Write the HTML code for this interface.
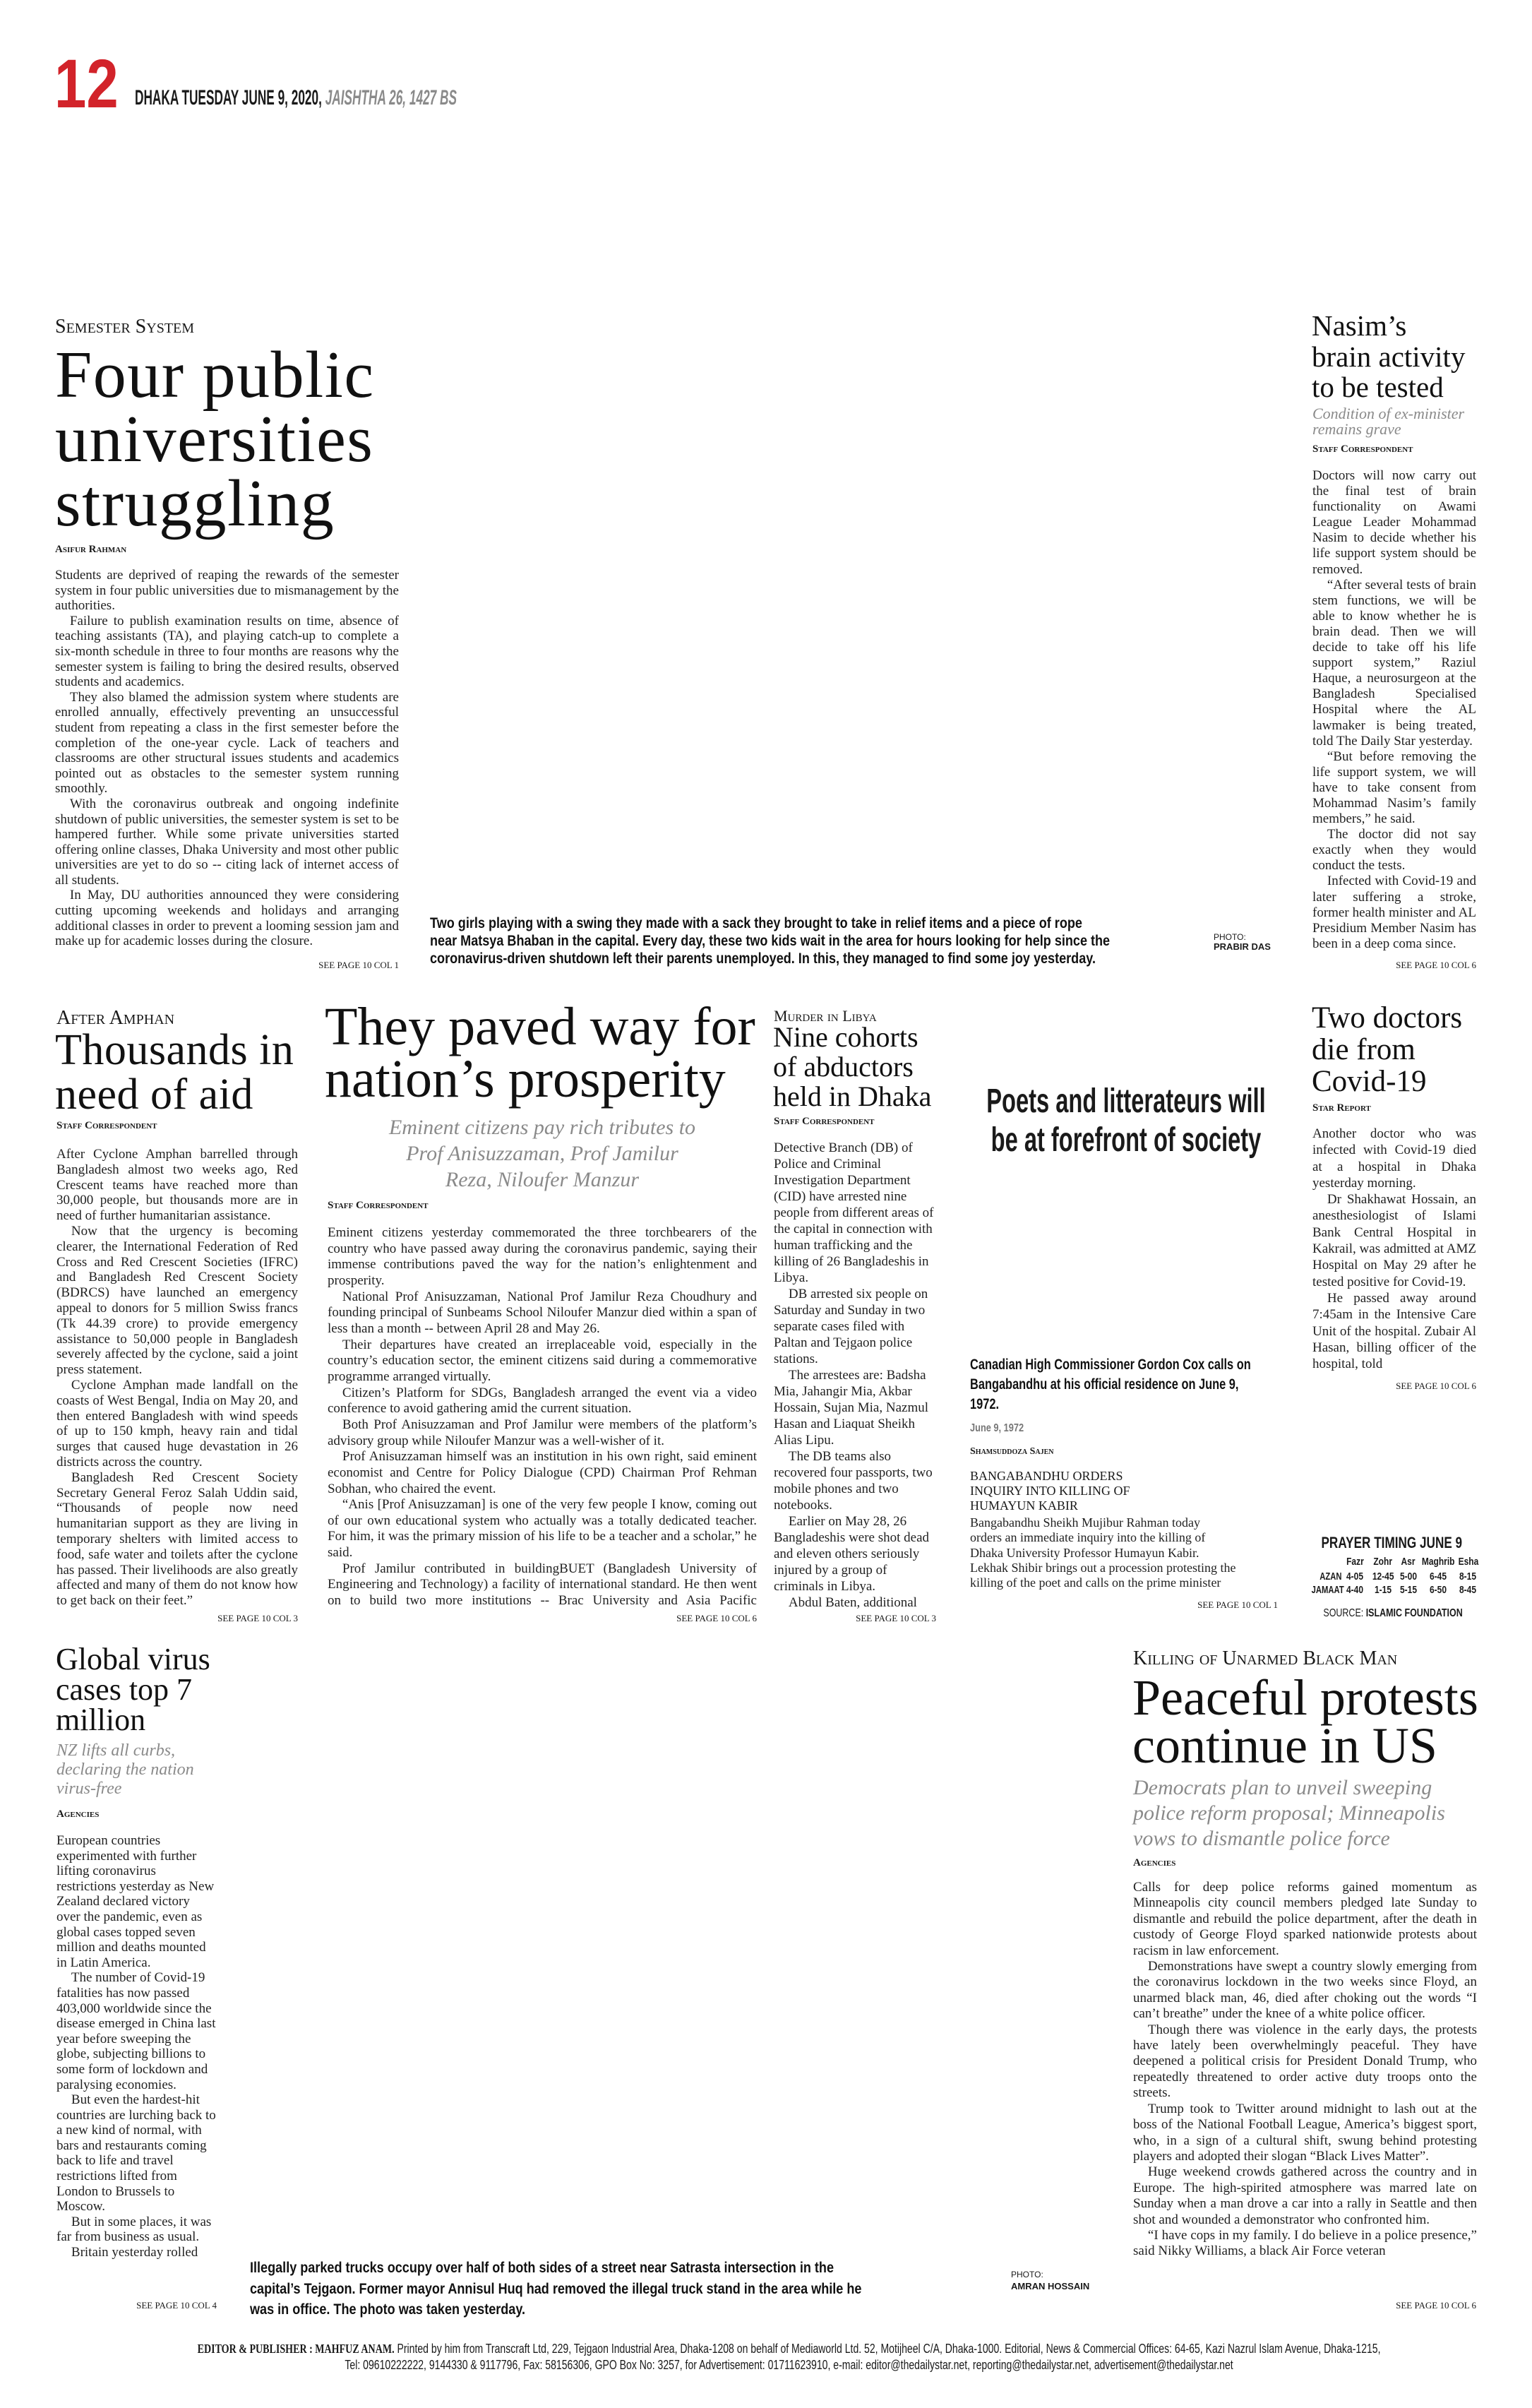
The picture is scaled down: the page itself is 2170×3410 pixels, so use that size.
<!DOCTYPE html>
<html><head><meta charset="utf-8">
<style>
html,body{margin:0;padding:0;background:#fff;}
body{width:2170px;height:3410px;position:relative;overflow:hidden;color:#1a1a1a;font-family:"Liberation Serif",serif;}
.a{position:absolute;}
.ser{font-family:"Liberation Serif",serif;}
.sans{font-family:"Liberation Sans",sans-serif;}
.kick{font-family:"Liberation Serif",serif;font-variant:small-caps;white-space:nowrap;}
.hd{font-family:"Liberation Serif",serif;white-space:nowrap;color:#111;}
.sub{font-family:"Liberation Serif",serif;font-style:italic;color:#8a8a8a;white-space:nowrap;}
.by{font-family:"Liberation Serif",serif;font-variant:small-caps;font-weight:bold;font-size:15px;line-height:18px;white-space:nowrap;}
.body{font-family:"Liberation Serif",serif;font-size:19px;text-align:justify;overflow:hidden;color:#222;}
.body p{margin:0;text-indent:1.1em;}
.body p:first-child{text-indent:0;}
.see{font-family:"Liberation Serif",serif;font-size:13px;line-height:16px;text-align:right;white-space:nowrap;}
.sc{transform-origin:0 0;}
.cap{font-family:"Liberation Sans",sans-serif;font-weight:bold;font-size:21px;white-space:nowrap;color:#111;}
</style></head><body>

<!-- masthead -->
<div class="a sans sc" style="left:77px;top:70px;font-size:97px;line-height:97px;font-weight:bold;color:#d2232a;transform:scaleX(.84);">12</div>
<div class="a sans sc" style="left:191px;top:124px;font-size:30px;line-height:30px;font-weight:bold;white-space:nowrap;transform:scaleX(.575);">DHAKA TUESDAY JUNE 9, 2020, <i style="color:#8a8a8a">JAISHTHA 26, 1427 BS</i></div>

<!-- Semester -->
<div class="a kick" style="left:78px;top:448px;font-size:28px;line-height:30px;">Semester System</div>
<div class="a hd" style="left:78px;top:486px;font-size:94px;line-height:91px;letter-spacing:1.5px;">Four public<br>universities<br>struggling</div>
<div class="a by" style="left:78px;top:769px;">Asifur Rahman</div>
<div class="a body" style="left:78px;top:804px;width:487px;height:540px;line-height:21.6px;">
<p>Students are deprived of reaping the rewards of the semester system in four public universities due to mismanagement by the authorities.</p>
<p>Failure to publish examination results on time, absence of teaching assistants (TA), and playing catch-up to complete a six-month schedule in three to four months are reasons why the semester system is failing to bring the desired results, observed students and academics.</p>
<p>They also blamed the admission system where students are enrolled annually, effectively preventing an unsuccessful student from repeating a class in the first semester before the completion of the one-year cycle. Lack of teachers and classrooms are other structural issues students and academics pointed out as obstacles to the semester system running smoothly.</p>
<p>With the coronavirus outbreak and ongoing indefinite shutdown of public universities, the semester system is set to be hampered further. While some private universities started offering online classes, Dhaka University and most other public universities are yet to do so -- citing lack of internet access of all students.</p>
<p>In May, DU authorities announced they were considering cutting upcoming weekends and holidays and arranging additional classes in order to prevent a looming session jam and make up for academic losses during the closure.</p>
</div>
<div class="a see" style="left:365px;width:200px;top:1359px;">SEE PAGE 10 COL 1</div>

<!-- caption 1 -->
<div class="a cap sc" style="left:609px;top:1295px;line-height:25px;transform:scaleX(.86);">Two girls playing with a swing they made with a sack they brought to take in relief items and a piece of rope<br>near Matsya Bhaban in the capital. Every day, these two kids wait in the area for hours looking for help since the<br>coronavirus-driven shutdown left their parents unemployed. In this, they managed to find some joy yesterday.</div>
<div class="a sans" style="left:1719px;top:1321px;font-size:12px;line-height:13px;">PHOTO:</div>
<div class="a sans" style="left:1719px;top:1334px;font-size:13px;line-height:13px;font-weight:bold;">PRABIR DAS</div>

<!-- Nasim -->
<div class="a hd" style="left:1858px;top:440px;font-size:41px;line-height:43.5px;">Nasim’s<br>brain activity<br>to be tested</div>
<div class="a sub" style="left:1859px;top:575px;font-size:22px;line-height:22px;">Condition of ex-minister<br>remains grave</div>
<div class="a by" style="left:1859px;top:627px;">Staff Correspondent</div>
<div class="a body" style="left:1859px;top:663px;width:232px;height:686px;line-height:22.1px;">
<p>Doctors will now carry out the final test of brain functionality on Awami League Leader Mohammad Nasim to decide whether his life support system should be removed.</p>
<p>“After several tests of brain stem functions, we will be able to know whether he is brain dead. Then we will decide to take off his life support system,” Raziul Haque, a neurosurgeon at the Bangladesh Specialised Hospital where the AL lawmaker is being treated, told The Daily Star yesterday.</p>
<p>“But before removing the life support system, we will have to take consent from Mohammad Nasim’s family members,” he said.</p>
<p>The doctor did not say exactly when they would conduct the tests.</p>
<p>Infected with Covid-19 and later suffering a stroke, former health minister and AL Presidium Member Nasim has been in a deep coma since.</p>
</div>
<div class="a see" style="left:1891px;width:200px;top:1359px;">SEE PAGE 10 COL 6</div>

<!-- After Amphan -->
<div class="a kick" style="left:80px;top:1427px;font-size:28px;line-height:30px;">After Amphan</div>
<div class="a hd" style="left:78px;top:1456px;font-size:62px;line-height:63px;letter-spacing:.5px;">Thousands in<br>need of aid</div>
<div class="a by" style="left:80px;top:1585px;">Staff Correspondent</div>
<div class="a body" style="left:80px;top:1624px;width:342px;height:654px;line-height:21.8px;">
<p>After Cyclone Amphan barrelled through Bangladesh almost two weeks ago, Red Crescent teams have reached more than 30,000 people, but thousands more are in need of further humanitarian assistance.</p>
<p>Now that the urgency is becoming clearer, the International Federation of Red Cross and Red Crescent Societies (IFRC) and Bangladesh Red Crescent Society (BDRCS) have launched an emergency appeal to donors for 5 million Swiss francs (Tk 44.39 crore) to provide emergency assistance to 50,000 people in Bangladesh severely affected by the cyclone, said a joint press statement.</p>
<p>Cyclone Amphan made landfall on the coasts of West Bengal, India on May 20, and then entered Bangladesh with wind speeds of up to 150 kmph, heavy rain and tidal surges that caused huge devastation in 26 districts across the country.</p>
<p>Bangladesh Red Crescent Society Secretary General Feroz Salah Uddin said, “Thousands of people now need humanitarian support as they are living in temporary shelters with limited access to food, safe water and toilets after the cyclone has passed. Their livelihoods are also greatly affected and many of them do not know how to get back on their feet.”</p>
</div>
<div class="a see" style="left:222px;width:200px;top:2284px;">SEE PAGE 10 COL 3</div>

<!-- They paved -->
<div class="a hd" style="left:460px;top:1417px;font-size:76px;line-height:74px;">They paved way for<br>nation’s prosperity</div>
<div class="a sub" style="left:464px;top:1578px;width:608px;text-align:center;font-size:30px;line-height:37px;">Eminent citizens pay rich tributes to<br>Prof Anisuzzaman, Prof Jamilur<br>Reza, Niloufer Manzur</div>
<div class="a by" style="left:464px;top:1698px;">Staff Correspondent</div>
<div class="a body" style="left:464px;top:1735px;width:608px;height:544px;line-height:22.65px;">
<p>Eminent citizens yesterday commemorated the three torchbearers of the country who have passed away during the coronavirus pandemic, saying their immense contributions paved the way for the nation’s enlightenment and prosperity.</p>
<p>National Prof Anisuzzaman, National Prof Jamilur Reza Choudhury and founding principal of Sunbeams School Niloufer Manzur died within a span of less than a month -- between April 28 and May 26.</p>
<p>Their departures have created an irreplaceable void, especially in the country’s education sector, the eminent citizens said during a commemorative programme arranged virtually.</p>
<p>Citizen’s Platform for SDGs, Bangladesh arranged the event via a video conference to avoid gathering amid the current situation.</p>
<p>Both Prof Anisuzzaman and Prof Jamilur were members of the platform’s advisory group while Niloufer Manzur was a well-wisher of it.</p>
<p>Prof Anisuzzaman himself was an institution in his own right, said eminent economist and Centre for Policy Dialogue (CPD) Chairman Prof Rehman Sobhan, who chaired the event.</p>
<p>“Anis [Prof Anisuzzaman] is one of the very few people I know, coming out of our own educational system who actually was a totally dedicated teacher. For him, it was the primary mission of his life to be a teacher and a scholar,” he said.</p>
<p>Prof Jamilur contributed in buildingBUET (Bangladesh University of Engineering and Technology) a facility of international standard. He then went on to build two more institutions -- Brac University and Asia Pacific University, said Prof Rehman, also an advisory group member of citizen’s platform.</p>
</div>
<div class="a see" style="left:872px;width:200px;top:2284px;">SEE PAGE 10 COL 6</div>

<!-- Murder in Libya -->
<div class="a kick" style="left:1096px;top:1427px;font-size:22px;line-height:24px;">Murder in Libya</div>
<div class="a hd" style="left:1095px;top:1448px;font-size:40px;line-height:42px;">Nine cohorts<br>of abductors<br>held in Dhaka</div>
<div class="a by" style="left:1096px;top:1579px;">Staff Correspondent</div>
<div class="a body" style="left:1096px;top:1614px;width:230px;height:667px;line-height:23px;text-align:left;">
<p>Detective Branch (DB) of Police and Criminal Investigation Department (CID) have arrested nine people from different areas of the capital in connection with human trafficking and the killing of 26 Bangladeshis in Libya.</p>
<p>DB arrested six people on Saturday and Sunday in two separate cases filed with Paltan and Tejgaon police stations.</p>
<p>The arrestees are: Badsha Mia, Jahangir Mia, Akbar Hossain, Sujan Mia, Nazmul Hasan and Liaquat Sheikh Alias Lipu.</p>
<p>The DB teams also recovered four passports, two mobile phones and two notebooks.</p>
<p>Earlier on May 28, 26 Bangladeshis were shot dead and eleven others seriously injured by a group of criminals in Libya.</p>
<p>Abdul Baten, additional commissioner of DMP, said</p>
</div>
<div class="a see" style="left:1126px;width:200px;top:2284px;">SEE PAGE 10 COL 3</div>

<!-- Poets -->
<div class="a sans sc" style="left:1391px;top:1532px;width:600px;text-align:center;font-size:48px;line-height:55px;font-weight:bold;white-space:nowrap;transform:scaleX(.68);">Poets and litterateurs will<br>be at forefront of society</div>
<div class="a cap sc" style="left:1374px;top:1919px;line-height:28px;transform:scaleX(.78);">Canadian High Commissioner Gordon Cox calls on<br>Bangabandhu at his official residence on June 9,<br>1972.</div>
<div class="a sans sc" style="left:1374px;top:2015px;font-size:16px;line-height:16px;font-weight:bold;color:#777;transform:scaleX(.8);">June 9, 1972</div>
<div class="a by" style="left:1374px;top:2047px;font-size:14px;">Shamsuddoza Sajen</div>
<div class="a ser" style="left:1374px;top:2080px;font-size:18px;line-height:21px;white-space:nowrap;">BANGABANDHU ORDERS<br>INQUIRY INTO KILLING OF<br>HUMAYUN KABIR</div>
<div class="a ser" style="left:1374px;top:2146px;font-size:18px;line-height:21.3px;white-space:nowrap;color:#222;">Bangabandhu Sheikh Mujibur Rahman today<br>orders an immediate inquiry into the killing of<br>Dhaka University Professor Humayun Kabir.<br>Lekhak Shibir brings out a procession protesting the<br>killing of the poet and calls on the prime minister</div>
<div class="a see" style="left:1610px;width:200px;top:2265px;">SEE PAGE 10 COL 1</div>

<!-- Two doctors -->
<div class="a hd" style="left:1858px;top:1419px;font-size:43px;line-height:45px;">Two doctors<br>die from<br>Covid-19</div>
<div class="a by" style="left:1859px;top:1560px;">Star Report</div>
<div class="a body" style="left:1859px;top:1594px;width:232px;height:350px;line-height:23.3px;">
<p>Another doctor who was infected with Covid-19 died at a hospital in Dhaka yesterday morning.</p>
<p>Dr Shakhawat Hossain, an anesthesiologist of Islami Bank Central Hospital in Kakrail, was admitted at AMZ Hospital on May 29 after he tested positive for Covid-19.</p>
<p>He passed away around 7:45am in the Intensive Care Unit of the hospital. Zubair Al Hasan, billing officer of the hospital, told</p>
</div>
<div class="a see" style="left:1891px;width:200px;top:1955px;">SEE PAGE 10 COL 6</div>

<!-- Prayer timing -->
<div class="a sans sc" style="left:1866px;top:2173px;width:270px;text-align:center;font-size:22px;line-height:24px;font-weight:bold;white-space:nowrap;transform:scaleX(.78);">PRAYER TIMING JUNE 9</div>
<div class="a sans" style="left:1800px;top:2203px;width:320px;height:70px;font-size:15px;font-weight:bold;">
 <div class="a" style="left:0;top:0;width:320px;height:70px;">
  <span class="a" style="left:104px;top:0;transform:scaleX(.8);">Fazr</span>
  <span class="a" style="left:142px;top:0;transform:scaleX(.8);">Zohr</span>
  <span class="a" style="left:182px;top:0;transform:scaleX(.8);">Asr</span>
  <span class="a" style="left:208px;top:0;transform:scaleX(.8);">Maghrib</span>
  <span class="a" style="left:262px;top:0;transform:scaleX(.8);">Esha</span>
  <span class="a" style="left:64px;top:21px;transform:scaleX(.75);">AZAN</span>
  <span class="a" style="left:104px;top:21px;transform:scaleX(.8);">4-05</span>
  <span class="a" style="left:140px;top:21px;transform:scaleX(.8);">12-45</span>
  <span class="a" style="left:180px;top:21px;transform:scaleX(.8);">5-00</span>
  <span class="a" style="left:222px;top:21px;transform:scaleX(.8);">6-45</span>
  <span class="a" style="left:264px;top:21px;transform:scaleX(.8);">8-15</span>
  <span class="a" style="left:50px;top:40px;transform:scaleX(.75);">JAMAAT</span>
  <span class="a" style="left:104px;top:40px;transform:scaleX(.8);">4-40</span>
  <span class="a" style="left:144px;top:40px;transform:scaleX(.8);">1-15</span>
  <span class="a" style="left:180px;top:40px;transform:scaleX(.8);">5-15</span>
  <span class="a" style="left:222px;top:40px;transform:scaleX(.8);">6-50</span>
  <span class="a" style="left:264px;top:40px;transform:scaleX(.8);">8-45</span>
 </div>
</div>
<div class="a sans sc" style="left:1874px;top:2276px;width:254px;text-align:center;font-size:16px;line-height:18px;white-space:nowrap;transform:scaleX(.78);">SOURCE: <b>ISLAMIC FOUNDATION</b></div>

<!-- Global virus -->
<div class="a hd" style="left:79px;top:2328px;font-size:44px;line-height:43px;">Global virus<br>cases top 7<br>million</div>
<div class="a sub" style="left:80px;top:2466px;font-size:24px;line-height:27px;">NZ lifts all curbs,<br>declaring the nation<br>virus-free</div>
<div class="a by" style="left:80px;top:2560px;">Agencies</div>
<div class="a body" style="left:80px;top:2596px;width:227px;height:650px;line-height:21.6px;text-align:left;">
<p>European countries experimented with further lifting coronavirus restrictions yesterday as New Zealand declared victory over the pandemic, even as global cases topped seven million and deaths mounted in Latin America.</p>
<p>The number of Covid-19 fatalities has now passed 403,000 worldwide since the disease emerged in China last year before sweeping the globe, subjecting billions to some form of lockdown and paralysing economies.</p>
<p>But even the hardest-hit countries are lurching back to a new kind of normal, with bars and restaurants coming back to life and travel restrictions lifted from London to Brussels to Moscow.</p>
<p>But in some places, it was far from business as usual.</p>
<p>Britain yesterday rolled</p>
</div>
<div class="a see" style="left:107px;width:200px;top:3257px;">SEE PAGE 10 COL 4</div>

<!-- caption 2 -->
<div class="a cap sc" style="left:354px;top:3197px;line-height:29.5px;transform:scaleX(.86);">Illegally parked trucks occupy over half of both sides of a street near Satrasta intersection in the<br>capital’s Tejgaon. Former mayor Annisul Huq had removed the illegal truck stand in the area while he<br>was in office. The photo was taken yesterday.</div>
<div class="a sans" style="left:1432px;top:3215px;font-size:12px;line-height:13px;">PHOTO:</div>
<div class="a sans" style="left:1432px;top:3231px;font-size:13px;line-height:13px;font-weight:bold;">AMRAN HOSSAIN</div>

<!-- Killing -->
<div class="a kick" style="left:1605px;top:2334px;font-size:28px;line-height:30px;">Killing of Unarmed Black Man</div>
<div class="a hd" style="left:1604px;top:2370px;font-size:72px;line-height:68px;">Peaceful protests<br>continue in US</div>
<div class="a sub" style="left:1605px;top:2514px;font-size:30px;line-height:36px;">Democrats plan to unveil sweeping<br>police reform proposal; Minneapolis<br>vows to dismantle police force</div>
<div class="a by" style="left:1605px;top:2629px;">Agencies</div>
<div class="a body" style="left:1605px;top:2662px;width:487px;height:584px;line-height:22.4px;">
<p>Calls for deep police reforms gained momentum as Minneapolis city council members pledged late Sunday to dismantle and rebuild the police department, after the death in custody of George Floyd sparked nationwide protests about racism in law enforcement.</p>
<p>Demonstrations have swept a country slowly emerging from the coronavirus lockdown in the two weeks since Floyd, an unarmed black man, 46, died after choking out the words “I can’t breathe” under the knee of a white police officer.</p>
<p>Though there was violence in the early days, the protests have lately been overwhelmingly peaceful. They have deepened a political crisis for President Donald Trump, who repeatedly threatened to order active duty troops onto the streets.</p>
<p>Trump took to Twitter around midnight to lash out at the boss of the National Football League, America’s biggest sport, who, in a sign of a cultural shift, swung behind protesting players and adopted their slogan “Black Lives Matter”.</p>
<p>Huge weekend crowds gathered across the country and in Europe. The high-spirited atmosphere was marred late on Sunday when a man drove a car into a rally in Seattle and then shot and wounded a demonstrator who confronted him.</p>
<p>“I have cops in my family. I do believe in a police presence,” said Nikky Williams, a black Air Force veteran</p>
</div>
<div class="a see" style="left:1891px;width:200px;top:3257px;">SEE PAGE 10 COL 6</div>

<!-- footer -->
<div class="a sans sc" style="left:258px;top:3315px;width:2204px;text-align:center;font-size:18px;line-height:23px;white-space:nowrap;transform:scaleX(.78);"><b class="ser">EDITOR &amp; PUBLISHER : MAHFUZ ANAM.</b> Printed by him from Transcraft Ltd, 229, Tejgaon Industrial Area, Dhaka-1208 on behalf of Mediaworld Ltd. 52, Motijheel C/A, Dhaka-1000. Editorial, News &amp; Commercial Offices: 64-65, Kazi Nazrul Islam Avenue, Dhaka-1215,<br>Tel: 09610222222, 9144330 &amp; 9117796, Fax: 58156306, GPO Box No: 3257, for Advertisement: 01711623910, e-mail: editor@thedailystar.net, reporting@thedailystar.net, advertisement@thedailystar.net</div>

</body></html>
